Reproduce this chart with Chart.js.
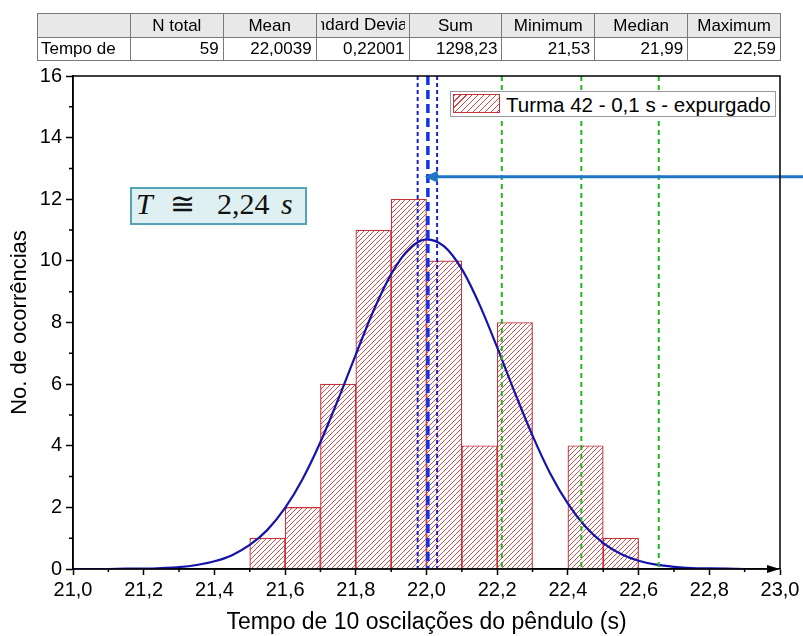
<!DOCTYPE html>
<html>
<head>
<meta charset="utf-8">
<script src="https://cdn.jsdelivr.net/npm/chart.js@4.4.1/dist/chart.umd.min.js"></script>
<style>
  body { margin: 0; background: #fff; }
  #wrap { position: relative; width: 803px; height: 636px; overflow: hidden; }
  #c { position: absolute; left: 0; top: 0; }
  #stats { position: absolute; left: 37px; top: 13px; width: 744px; border-collapse: collapse; table-layout: fixed;
           font-family: 'Liberation Sans', Arial, sans-serif; font-size: 17px; color: #000; }
  #stats td { border: 1px solid #7a7a7a; padding: 0 4px; white-space: nowrap; overflow: hidden; box-sizing: border-box; }
  #stats tr.head td { background: #e8e8e8; text-align: center; height: 24px; }
  #stats tr.row td { background: #fff; text-align: right; height: 23px; }
  #stats tr.row td:first-child { text-align: left; padding-left: 3px; }
  .clip { position: relative; height: 21px; overflow: hidden; }
  .clip span { position: absolute; left: 50%; top: 0; transform: translateX(-50%); white-space: nowrap; }
  #tbox { position: absolute; left: 130px; top: 187px; width: 177px; height: 38px; box-sizing: border-box;
          border: 2px solid #55a3b9; background: #dff0f3; font-family: 'Liberation Serif', 'DejaVu Serif', serif;
          font-size: 30px; color: #111; }
  #tbox span { position: absolute; top: -2px; line-height: 34px; }
  #legend { position: absolute; left: 450px; top: 91px; width: 326px; height: 26px; box-sizing: border-box;
            border: 1px solid #9a9a9a; background: #fff; font-family: 'Liberation Sans', Arial, sans-serif; font-size: 20.5px; }
  #legend .sw { position: absolute; left: 2px; top: 2px; width: 47px; height: 19px; box-sizing: border-box;
                border: 1px solid #c4323a;
                background: repeating-linear-gradient(135deg, #d24a4a 0 0.8px, #fff 0.8px 4.2px); }
  #legend .lt { position: absolute; left: 55px; top: 0; line-height: 25px; white-space: nowrap; }
</style>
</head>
<body>
<div id="wrap">
  <canvas id="c" width="803" height="636"></canvas>
  <table id="stats"><tbody></tbody></table>
  <div id="tbox"><span style="left:4px"><i>T</i></span><span style="left:38px">≅</span><span style="left:85px">2,24</span><span style="left:149px"><i>s</i></span></div>
  <div id="legend"><span class="sw"></span><span class="lt" id="legText"></span></div>
</div>
<script>
// histogram bins (centre of each 0,1 s bin) and counts
const binCenters = [21.55, 21.65, 21.75, 21.85, 21.95, 22.05, 22.15, 22.25, 22.35, 22.45, 22.55];
const counts     = [1, 2, 6, 11, 12, 10, 4, 8, 0, 4, 1];

// normal curve
const curveX = [21.00, 21.05, 21.10, 21.15, 21.20, 21.25, 21.30, 21.35, 21.40, 21.45,
                21.50, 21.55, 21.60, 21.65, 21.70, 21.75, 21.80, 21.85, 21.90, 21.95,
                22.00, 22.05, 22.10, 22.15, 22.20, 22.25, 22.30, 22.35, 22.40, 22.45,
                22.50, 22.55, 22.60, 22.65, 22.70, 22.75, 22.80, 22.85, 22.90];
const curveY = [0.00, 0.00, 0.00, 0.01, 0.01, 0.03, 0.06, 0.13, 0.25, 0.45,
                0.78, 1.27, 1.98, 2.93, 4.12, 5.50, 6.96, 8.38, 9.57, 10.38,
                10.70, 10.47, 9.73, 8.58, 7.19, 5.72, 4.33, 3.10, 2.12, 1.37,
                0.84, 0.49, 0.27, 0.14, 0.07, 0.03, 0.02, 0.01, 0.00];

// vertical marker lines
const meanLine = [22.0039];
const errLines = [21.975, 22.030];
const sdLines  = [22.213, 22.438, 22.657];
const arrowTip = [21.995, 12.73];

// statistics table
const statHeads = ['', 'N total', 'Mean', 'Standard Deviation', 'Sum', 'Minimum', 'Median', 'Maximum'];
const statRow   = ['Tempo de', '59', '22,0039', '0,22001', '1298,23', '21,53', '21,99', '22,59'];

const seriesLabel = 'Turma 42 - 0,1 s - expurgado';
const xTitle = 'Tempo de 10 oscilações do pêndulo (s)';
const yTitle = 'No. de ocorrências';

const FONT = "'Liberation Sans', Arial, sans-serif";

// build table
const tb = document.querySelector('#stats tbody');
let tr = document.createElement('tr'); tr.className = 'head';
statHeads.forEach(function (h, i) {
  const td = document.createElement('td');
  if (i === 3) td.innerHTML = '<div class="clip"><span>' + h + '</span></div>';
  else td.textContent = h;
  tr.appendChild(td);
});
tb.appendChild(tr);
tr = document.createElement('tr'); tr.className = 'row';
statRow.forEach(function (v) {
  const td = document.createElement('td');
  td.textContent = v;
  tr.appendChild(td);
});
tb.appendChild(tr);
document.getElementById('legText').textContent = seriesLabel;

// red "/" hatch, drawn pixel by pixel so it stays red
function hatch(ctx) {
  const n = 5;
  const c = document.createElement('canvas');
  c.width = n; c.height = n;
  const g = c.getContext('2d');
  g.fillStyle = '#ffffff';
  g.fillRect(0, 0, n, n);
  g.fillStyle = 'rgb(214,80,80)';
  for (let i = 0; i < n; i++) g.fillRect(i, n - 1 - i, 1, 1);
  return ctx.createPattern(c, 'repeat');
}

const decor = {
  id: 'decor',
  afterDatasetsDraw(chart) {
    const ctx = chart.ctx, a = chart.chartArea;
    const xs = chart.scales.x, ys = chart.scales.y;
    ctx.save();
    function vline(v, color, w, dash) {
      const px = xs.getPixelForValue(v);
      ctx.strokeStyle = color; ctx.lineWidth = w; ctx.setLineDash(dash);
      ctx.beginPath(); ctx.moveTo(px, a.top); ctx.lineTo(px, a.bottom); ctx.stroke();
    }
    sdLines.forEach(v => vline(v, '#22b422', 2, [5, 4]));
    errLines.forEach(v => vline(v, '#1c22c8', 2, [4, 3]));
    meanLine.forEach(v => vline(v, '#1233e6', 3.5, [9, 5]));
    ctx.setLineDash([]);

    // arrow pointing to the mean
    const tx = xs.getPixelForValue(arrowTip[0]), ty = ys.getPixelForValue(arrowTip[1]);
    ctx.strokeStyle = '#1f76c2'; ctx.fillStyle = '#1f76c2'; ctx.lineWidth = 3;
    ctx.beginPath(); ctx.moveTo(chart.width, ty); ctx.lineTo(tx + 10, ty); ctx.stroke();
    ctx.beginPath(); ctx.moveTo(tx, ty); ctx.lineTo(tx + 13, ty - 6); ctx.lineTo(tx + 13, ty + 6); ctx.closePath(); ctx.fill();

    // frame, minor ticks, axis lines
    ctx.strokeStyle = '#000'; ctx.lineWidth = 1.5;
    ctx.beginPath();
    ctx.moveTo(a.left, a.top); ctx.lineTo(a.right, a.top); ctx.lineTo(a.right, a.bottom);
    ctx.moveTo(a.left, a.bottom); ctx.lineTo(a.right - 8, a.bottom);
    ctx.moveTo(a.left, a.top); ctx.lineTo(a.left, a.bottom);
    ctx.stroke();
    ctx.beginPath();
    for (let i = 0; i < xs.ticks.length - 1; i++) {
      const px = xs.getPixelForValue((xs.ticks[i].value + xs.ticks[i + 1].value) / 2);
      ctx.moveTo(px, a.bottom); ctx.lineTo(px, a.bottom + 3);
    }
    for (let i = 0; i < ys.ticks.length - 1; i++) {
      const py = ys.getPixelForValue((ys.ticks[i].value + ys.ticks[i + 1].value) / 2);
      ctx.moveTo(a.left, py); ctx.lineTo(a.left - 4, py);
    }
    ctx.stroke();
    ctx.fillStyle = '#000';
    ctx.beginPath();
    ctx.moveTo(a.right, a.bottom); ctx.lineTo(a.right - 13, a.bottom - 4); ctx.lineTo(a.right - 13, a.bottom + 4);
    ctx.closePath(); ctx.fill();
    ctx.restore();
  }
};

const canvas = document.getElementById('c');
const pattern = hatch(canvas.getContext('2d'));

new Chart(canvas, {
  type: 'bar',
  data: {
    datasets: [
      {
        type: 'line',
        label: 'ajuste',
        data: curveX.map((x, i) => ({ x: x, y: curveY[i] })),
        borderColor: '#1414a8',
        borderWidth: 2.2,
        pointRadius: 0,
        cubicInterpolationMode: 'monotone',
        order: 0
      },
      {
        label: seriesLabel,
        data: binCenters.map((x, i) => ({ x: x, y: counts[i] || null })),
        backgroundColor: pattern,
        borderColor: '#c4323a',
        borderWidth: 1.2,
        barPercentage: 1,
        categoryPercentage: 1,
        order: 1
      }
    ]
  },
  options: {
    responsive: false,
    animation: false,
    layout: { padding: { left: 0, top: 76, right: 23, bottom: 0 } },
    plugins: { legend: { display: false }, tooltip: { enabled: false } },
    scales: {
      x: {
        type: 'linear', min: 21, max: 23, offset: false,
        grid: { offset: false, drawOnChartArea: false, tickLength: 6, tickColor: '#000', tickWidth: 1.5 },
        border: { color: '#000', width: 1.5 },
        ticks: {
          stepSize: 0.2, autoSkip: false, maxRotation: 0, color: '#000', padding: 3,
          font: { family: FONT, size: 20 },
          callback: v => v.toFixed(1).replace('.', ',')
        },
        title: { display: true, text: xTitle, color: '#000', font: { family: FONT, size: 23 }, padding: 0 },
        afterFit: s => { s.height = 67; }
      },
      y: {
        min: 0, max: 16,
        grid: { drawOnChartArea: false, tickLength: 7, tickColor: '#000', tickWidth: 1.5 },
        border: { color: '#000', width: 1.5 },
        ticks: { stepSize: 2, color: '#000', padding: 4, font: { family: FONT, size: 20 } },
        title: { display: true, text: yTitle, color: '#000', font: { family: FONT, size: 22 }, padding: { top: 7 } },
        afterFit: s => { s.width = 73; }
      }
    }
  },
  plugins: [decor]
});
</script>
</body>
</html>
